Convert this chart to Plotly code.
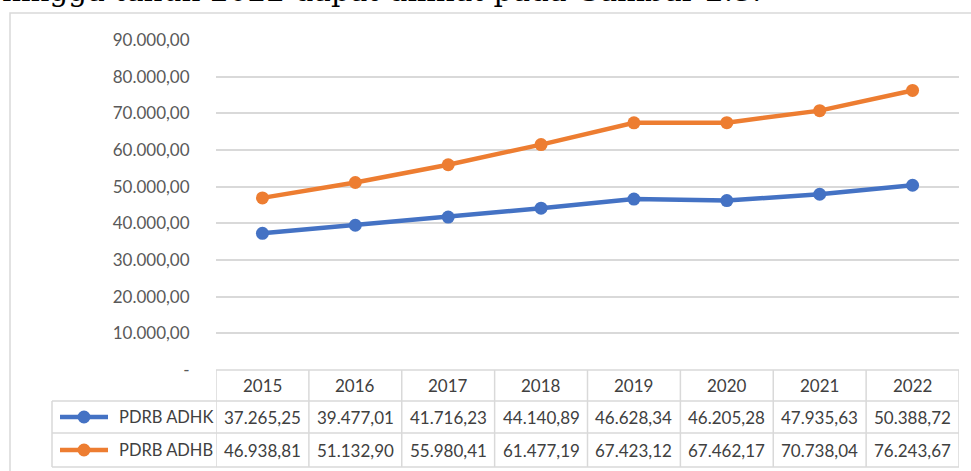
import plotly.graph_objects as go

years = ["2015", "2016", "2017", "2018", "2019", "2020", "2021", "2022"]
adhk = [37265.25, 39477.01, 41716.23, 44140.89, 46628.34, 46205.28, 47935.63, 50388.72]
adhb = [46938.81, 51132.90, 55980.41, 61477.19, 67423.12, 67462.17, 70738.04, 76243.67]
adhk_text = ["37.265,25", "39.477,01", "41.716,23", "44.140,89", "46.628,34", "46.205,28", "47.935,63", "50.388,72"]
adhb_text = ["46.938,81", "51.132,90", "55.980,41", "61.477,19", "67.423,12", "67.462,17", "70.738,04", "76.243,67"]
series_names = ["PDRB ADHK", "PDRB ADHB"]
y_tickvals = [0, 10000, 20000, 30000, 40000, 50000, 60000, 70000, 80000, 90000]
y_ticktext = ["-", "10.000,00", "20.000,00", "30.000,00", "40.000,00", "50.000,00",
              "60.000,00", "70.000,00", "80.000,00", "90.000,00"]
heading = "hingga tahun 2022 dapat dilihat pada Gambar 2.3."

BLUE = "#4472C4"
ORANGE = "#ED7D31"
GRID = "#d9d9d9"
TXT = "#404040"
FONT = "Lato"
FS = 17

W, H = 971, 471
L, R, T, B = 216, 959, 40, 370


def pxx(p):
    return (p - L) / (R - L)


def pxy(p):
    return (B - p) / (B - T)


fig = go.Figure()
xs = list(range(len(years)))
for vals, name, col in [(adhk, series_names[0], BLUE), (adhb, series_names[1], ORANGE)]:
    fig.add_trace(go.Scatter(x=xs, y=vals, mode="lines+markers", name=name,
                             line=dict(color=col, width=4.5),
                             marker=dict(color=col, size=13),
                             showlegend=False, cliponaxis=False, hoverinfo="skip"))

shapes = []
ann = []
shapes.append(dict(type="rect", xref="paper", yref="paper",
                   x0=pxx(10), x1=pxx(980), y0=pxy(490), y1=pxy(13),
                   line=dict(color=GRID, width=1.5), layer="below"))

row_top, row1, row2, row3 = 370, 401, 433, 467
lab_left = 52
n = len(years)
shapes.append(dict(type="line", xref="x", yref="paper", x0=-0.5, x1=n - 0.5,
                   y0=pxy(row_top), y1=pxy(row_top), line=dict(color=GRID, width=1.5)))
for ry in (row1, row2, row3):
    shapes.append(dict(type="line", xref="paper", yref="paper", x0=pxx(lab_left), x1=1,
                       y0=pxy(ry), y1=pxy(ry), line=dict(color=GRID, width=1.5)))
shapes.append(dict(type="line", xref="paper", yref="paper", x0=pxx(lab_left), x1=pxx(lab_left),
                   y0=pxy(row1), y1=pxy(row3), line=dict(color=GRID, width=1.5)))
for i in range(n + 1):
    shapes.append(dict(type="line", xref="x", yref="paper", x0=i - 0.5, x1=i - 0.5,
                       y0=pxy(row_top), y1=pxy(row3), line=dict(color=GRID, width=1.5)))

cell_font = dict(family=FONT, size=FS, color=TXT)
for i, yr in enumerate(years):
    for txt, (ra, rb) in [(yr, (row_top, row1)), (adhk_text[i], (row1, row2)), (adhb_text[i], (row2, row3))]:
        ann.append(dict(x=i, y=pxy((ra + rb) / 2), xref="x", yref="paper", text=txt,
                        xanchor="center", yanchor="middle", showarrow=False, font=cell_font))

for name, col, (ra, rb) in [(series_names[0], BLUE, (row1, row2)), (series_names[1], ORANGE, (row2, row3))]:
    cy = (ra + rb) / 2
    shapes.append(dict(type="line", xref="paper", yref="paper", x0=pxx(60), x1=pxx(108),
                       y0=pxy(cy), y1=pxy(cy), line=dict(color=col, width=4.5)))
    shapes.append(dict(type="circle", xref="paper", yref="paper",
                       xsizemode="pixel", ysizemode="pixel", xanchor=pxx(84), yanchor=pxy(cy),
                       x0=-6.5, x1=6.5, y0=-6.5, y1=6.5,
                       fillcolor=col, line=dict(color=col, width=0)))
    ann.append(dict(x=pxx(117), y=pxy(cy), xref="paper", yref="paper", text=name,
                    xanchor="left", yanchor="middle", showarrow=False,
                    font=dict(family=FONT, size=16.5, color=TXT)))

ann.append(dict(x=pxx(1), y=pxy(9), xref="paper", yref="paper", text=heading,
                xanchor="left", yanchor="bottom", showarrow=False, borderpad=0,
                font=dict(family="DejaVu Serif", size=29.5, color="#000000")))

fig.update_layout(
    width=W, height=H,
    margin=dict(l=L, r=W - R, t=T, b=H - B, pad=0),
    paper_bgcolor="white", plot_bgcolor="white",
    shapes=shapes, annotations=ann, hovermode=False,
    xaxis=dict(range=[-0.5, n - 0.5], showticklabels=False, showgrid=False,
               zeroline=False, showline=False, ticks=""),
    yaxis=dict(range=[0, 90000], tickvals=y_tickvals, ticktext=y_ticktext,
               showgrid=True, gridcolor=GRID, gridwidth=1.5, zeroline=False, showline=False,
               ticks="outside", ticklen=22, tickcolor="rgba(0,0,0,0)",
               tickfont=dict(family=FONT, size=FS, color="#595959")),
)

fig.write_html("out.html", config={"displayModeBar": False},
               post_script="document.body.style.margin='0';")
